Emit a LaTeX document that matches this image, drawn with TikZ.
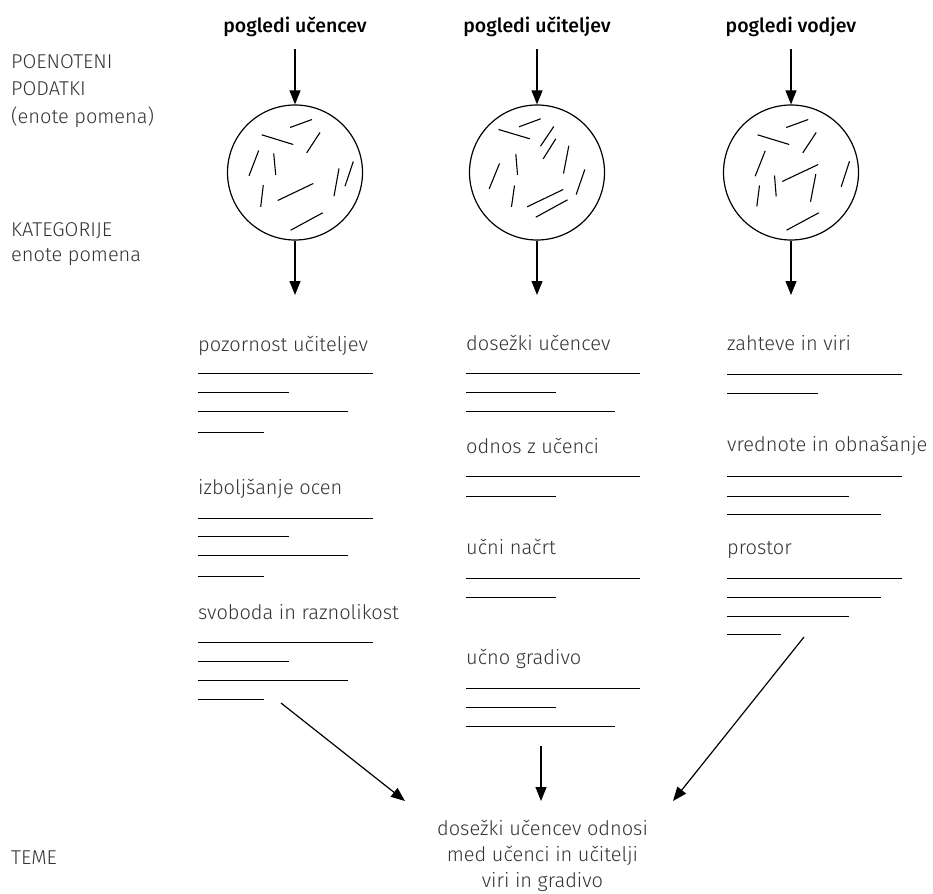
\documentclass[tikz,border=0pt]{standalone}
\usepackage{fontspec}
\setmainfont{Fira Sans}[UprightFont=* Light, BoldFont=* Medium]
\usetikzlibrary{arrows.meta}
\definecolor{ink}{HTML}{333333}
\begin{document}
\begin{tikzpicture}[x=1pt,y=-1pt,
  txt/.style={inner sep=0pt, anchor=base west, text=ink, font=\fontsize{20}{27.5}\selectfont},
  title/.style={inner sep=0pt, anchor=base, text=black, font=\fontsize{19.5}{20}\selectfont\bfseries},
  rule/.style={line width=1.1pt},
  arr/.style={line width=1.2pt, -{Triangle[length=14pt,width=11pt]}},
  blob/.style={circle, draw, line width=1.2pt, minimum size=135pt, inner sep=0pt},
  dash line/.style={line width=1.1pt}]
\useasboundingbox (0,0) rectangle (933,893);

% row labels on the left (multi-line nodes sit on their last baseline)
\node[txt, align=left] (lpod) at (11,123.3) {POENOTENI\\PODATKI\\(enote pomena)};
\node[txt, align=left, font=\fontsize{20}{25}\selectfont] (lkat) at (11,261.7) {KATEGORIJE\\enote pomena};
\node[txt] (ltem) at (11,864) {TEME};

% column titles
\node[title] (t1) at (295,32.3) {pogledi učencev};
\node[title] (t2) at (537,32.3) {pogledi učiteljev};
\node[title] (t3) at (791,32.3) {pogledi vodjev};

% circles holding the meaning units
\node[blob] (c1) at (295,172.5) {};
\node[blob] (c2) at (537,172.5) {};
\node[blob] (c3) at (791,172.5) {};

\begin{scope}[shift={(c1.center)}]
\foreach \a/\b/\c/\d in {-5/-45/17/-53, -33.3/-37.7/-1.7/-28, 11.7/-19.7/25/-40,
  -46/3.3/-36.3/-22, -21.3/-19/-19.3/2.3, 39/23.7/44/-4, 50/13.7/58.3/-11,
  -34.3/34.3/-31.7/12.7, -17.3/28/18.3/11, -4.3/57.7/27.7/40.3}
  \draw[dash line] (\a,\b) -- (\c,\d);
\end{scope}
\begin{scope}[shift={(c2.center)}]
\foreach \a/\b/\c/\d in {-18/-45.7/3.7/-53.7, -38.5/-43/-7.2/-33.7, 3.5/-26.3/16.8/-46,
  6.2/-13.7/18.8/-33.7, 26.5/1/31.8/-26.7, -47.8/16.3/-37.5/-9, -21.2/-18.7/-19.5/2.3,
  -25.5/34.3/-22.5/13, -9.8/34.3/26.2/17, -1.2/44.7/30.5/27.3, 39.2/22/47.8/-3}
  \draw[dash line] (\a,\b) -- (\c,\d);
\end{scope}
\begin{scope}[shift={(c3.center)}]
\foreach \a/\b/\c/\d in {-4.8/-45/17.2/-53, -33.5/-37.7/-1.8/-28, 11.8/-19.7/25.2/-40,
  -35.8/3.7/-25.8/-21.7, -16.5/3/-14.8/24, -34.2/34/-31.5/13, -8.8/9/27.2/-8,
  19.5/29.3/24.8/1.7, 50.2/14.3/58.5/-11.3, -4.5/57.7/27.8/40.3}
  \draw[dash line] (\a,\b) -- (\c,\d);
\end{scope}

% arrows into and out of the circles
\coordinate (i1) at (295,49);
\coordinate (i2) at (537,49);
\coordinate (i3) at (791,49);
\coordinate (o1) at (295,295);
\coordinate (o2) at (537,295);
\coordinate (o3) at (791,295);
\foreach \k in {1,2,3} {
  \draw[arr] (i\k) -- (c\k.north);
  \draw[arr] (c\k.south) -- (o\k);
}

% categories: students
\node[txt] (k11) at (198,351) {pozornost učiteljev};
\node[txt] (k12) at (198,494.3) {izboljšanje ocen};
\node[txt] (k13) at (198,619.3) {svoboda in raznolikost};
\foreach \y/\l in {373.5/175, 392.5/91, 411.5/150, 432.5/66,
                   518.5/175, 536.5/91, 555.5/150, 576.5/66,
                   642.5/175, 661.5/91, 680.5/150, 699.5/66}
  \draw[rule] (198,\y) -- ++(\l,0);

% categories: teachers
\node[txt] (k21) at (466,350.7) {dosežki učencev};
\node[txt] (k22) at (466,453.3) {odnos z učenci};
\node[txt] (k23) at (466,554) {učni načrt};
\node[txt] (k24) at (466,664.3) {učno gradivo};
\foreach \y/\l in {373.5/174, 392.5/90, 411.5/149,
                   476.5/174, 496.5/90,
                   578.5/174, 597.5/90,
                   688.5/174, 707.5/90, 726.5/149}
  \draw[rule] (466,\y) -- ++(\l,0);

% categories: leaders
\node[txt] (k31) at (727,350.7) {zahteve in viri};
\node[txt] (k32) at (727,451) {vrednote in obnašanje};
\node[txt] (k33) at (727,554) {prostor};
\foreach \y/\l in {374.5/175, 393.5/91,
                   476.5/175, 496.5/122, 514.5/153.7,
                   578.5/175, 597.5/153.7, 616.5/122, 634.5/54}
  \draw[rule] (727,\y) -- ++(\l,0);

% themes
\node[txt, anchor=base, align=center, font=\fontsize{20}{26}\selectfont] (th) at (542.5,887.5)
  {dosežki učencev odnosi\\med učenci in učitelji\\viri in gradivo};

\coordinate (s1) at (281,703);
\coordinate (e1) at (405,801);
\coordinate (s2) at (541,746);
\coordinate (e2) at (541,801);
\coordinate (s3) at (804,637);
\coordinate (e3) at (673,801);
\draw[arr] (s1) -- (e1);
\draw[arr] (s2) -- (e2);
\draw[arr] (s3) -- (e3);
\end{tikzpicture}
\end{document}
